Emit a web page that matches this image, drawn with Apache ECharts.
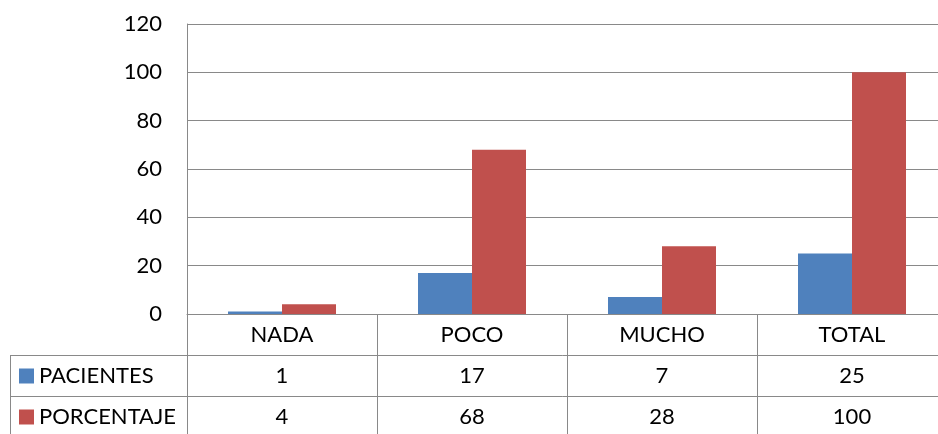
<!DOCTYPE html>
<html>
<head>
<meta charset="utf-8">
<script src="https://cdn.jsdelivr.net/npm/echarts@6/dist/echarts.min.js"></script>
<style>
  html, body { margin: 0; padding: 0; background: #fff; }
  #chart { width: 938px; height: 434px; }
</style>
</head>
<body>
<div id="chart"></div>
<script>
  // datos del gráfico
  var categorias = ['NADA', 'POCO', 'MUCHO', 'TOTAL']
  var pacientes = [1, 17, 7, 25]
  var porcentaje = [4, 68, 28, 100]
  var nombres = ['PACIENTES', 'PORCENTAJE']

  var gris = '#898989'
  var fuente = 'Lato'
  var chart = echarts.init(document.getElementById('chart'))

  // ejes extra para las filas de la tabla de datos
  function filaTabla(valores, offset) {
    return {
      type: 'category',
      position: 'bottom',
      offset: offset,
      data: valores.map(String),
      axisLine: { show: true, lineStyle: { color: gris, width: 1 } },
      axisTick: { show: false },
      axisLabel: { color: '#000', fontSize: 22, fontFamily: fuente, margin: 10 }
    }
  }

  // una leyenda por fila de la tabla
  function leyenda(nombre, top) {
    return {
      left: 19,
      top: top,
      padding: 0,
      itemWidth: 15,
      itemHeight: 15,
      itemGap: 0,
      icon: 'rect',
      textStyle: { color: '#000', fontSize: 22, fontFamily: fuente },
      data: [nombre]
    }
  }

  var option = {
    animation: false,
    textStyle: { fontFamily: fuente },
    legend: [leyenda(nombres[0], 365), leyenda(nombres[1], 406)],
    grid: {
      left: 187,
      top: 24,
      width: 760,
      height: 290,
      containLabel: false,
      outerBoundsMode: 'none'
    },
    xAxis: [
      {
        type: 'category',
        data: categorias,
        axisLine: { show: true, lineStyle: { color: gris, width: 1 } },
        axisTick: { show: true, length: 123, lineStyle: { color: gris, width: 1 } },
        axisLabel: { color: '#000', fontSize: 22, fontFamily: fuente, margin: 10 },
        splitLine: { show: false }
      },
      filaTabla(pacientes, 41),
      filaTabla(porcentaje, 82)
    ],
    yAxis: {
      type: 'value',
      min: 0,
      max: 120,
      interval: 20,
      axisLine: { show: true, lineStyle: { color: gris, width: 1 } },
      axisTick: { show: false },
      axisLabel: { color: '#000', fontSize: 22, fontFamily: fuente, margin: 25 },
      splitLine: { lineStyle: { color: gris, width: 1 } }
    },
    series: [
      {
        name: nombres[0],
        type: 'bar',
        data: pacientes,
        barWidth: 54,
        barGap: '0%',
        itemStyle: { color: '#4F81BD' }
      },
      {
        name: nombres[1],
        type: 'bar',
        data: porcentaje,
        barWidth: 54,
        barGap: '0%',
        itemStyle: { color: '#C0504D' }
      }
    ],
    // líneas de la tabla a la izquierda (zona de la leyenda)
    graphic: [
      { type: 'line', shape: { x1: 10, y1: 355.5, x2: 187, y2: 355.5 }, style: { stroke: gris, lineWidth: 1 } },
      { type: 'line', shape: { x1: 10, y1: 396.5, x2: 187, y2: 396.5 }, style: { stroke: gris, lineWidth: 1 } },
      { type: 'line', shape: { x1: 10.5, y1: 355, x2: 10.5, y2: 440 }, style: { stroke: gris, lineWidth: 1 } }
    ]
  }
  chart.setOption(option)
</script>
</body>
</html>
